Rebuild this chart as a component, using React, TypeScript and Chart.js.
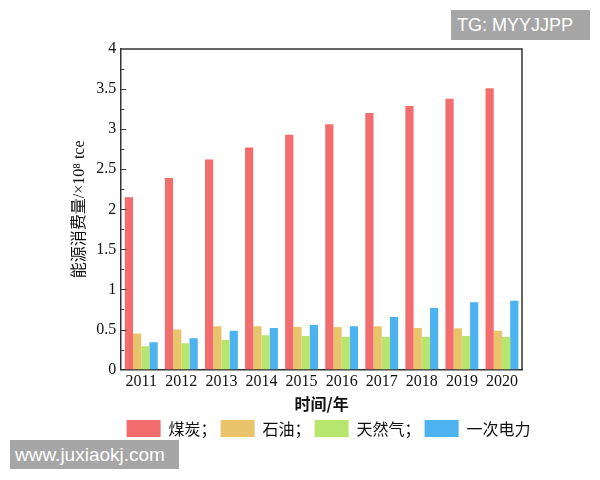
import React, { useEffect, useRef } from "react";
import { Chart, registerables } from "chart.js";

Chart.register(...registerables);

const years = ["2011", "2012", "2013", "2014", "2015", "2016", "2017", "2018", "2019", "2020"];
const coal = [2.15, 2.39, 2.62, 2.77, 2.93, 3.06, 3.2, 3.29, 3.38, 3.51];
const oil = [0.45, 0.5, 0.54, 0.54, 0.53, 0.53, 0.54, 0.52, 0.515, 0.485];
const gas = [0.29, 0.33, 0.37, 0.43, 0.42, 0.41, 0.41, 0.41, 0.42, 0.41];
const power = [0.34, 0.39, 0.485, 0.52, 0.555, 0.54, 0.655, 0.77, 0.84, 0.86];

const seriesNames = ["煤炭；", "石油；", "天然气；", "一次电力"];
const seriesColors = ["#F36C6E", "#EAC46A", "#B7E66E", "#4CB2F0"];

const yTitle = "能源消费量/×10⁸ tce";
const xTitle = "时间/年";

const FONT = "'Liberation Serif', 'Times New Roman', 'Noto Sans CJK SC', serif";
const AXIS_COLOR = "#333333";

const framePlugin = {
  id: "frameAndTicks",
  afterLayout(chart: any) {
    const lg = chart.legend;
    if (lg) {
      const target = (chart.chartArea.left + chart.chartArea.right) / 2 + 7;
      const shift = target - (lg.left + lg.right) / 2;
      lg.left += shift;
      lg.right += shift;
    }
  },
  afterDraw(chart: any) {
    const { ctx, chartArea } = chart;
    const y = chart.scales.y;
    ctx.save();
    ctx.strokeStyle = AXIS_COLOR;
    ctx.lineWidth = 1.5;
    ctx.beginPath();
    ctx.moveTo(chartArea.left, chartArea.top);
    ctx.lineTo(chartArea.right, chartArea.top);
    ctx.lineTo(chartArea.right, chartArea.bottom);
    ctx.stroke();
    ctx.lineWidth = 1;
    for (let i = 1; i < 16; i++) {
      const v = i * 0.25;
      const py = Math.round(y.getPixelForValue(v)) + 0.5;
      const len = i % 2 === 0 ? 5 : 3;
      ctx.beginPath();
      ctx.moveTo(chartArea.left, py);
      ctx.lineTo(chartArea.left + len, py);
      ctx.stroke();
    }
    ctx.restore();
  },
};

export default function App() {
  const ref = useRef<HTMLCanvasElement>(null);

  useEffect(() => {
    if (!ref.current) return;
    const data = [coal, oil, gas, power];
    const chart = new Chart(ref.current, {
      type: "bar",
      data: {
        labels: years,
        datasets: data.map((d, i) => ({
          label: seriesNames[i],
          data: d,
          backgroundColor: seriesColors[i],
          borderWidth: 0,
          categoryPercentage: 0.82,
          barPercentage: 1.0,
        })),
      },
      options: {
        responsive: false,
        animation: false,
        layout: { padding: { left: 64, right: 78, top: 49, bottom: 33 } },
        plugins: {
          tooltip: { enabled: false },
          legend: {
            position: "bottom",
            fullSize: true,
            labels: {
              boxWidth: 34,
              boxHeight: 17,
              padding: 4,
              color: "#111",
              font: { family: "'Noto Sans CJK SC', sans-serif", size: 16 },
            },
          },
        },
        scales: {
          x: {
            offset: true,
            grid: { display: false, drawTicks: false },
            border: { display: true, color: AXIS_COLOR, width: 1.5 },
            ticks: { color: "#111", padding: 3, font: { family: FONT, size: 16 } },
            title: {
              display: true,
              text: xTitle,
              color: "#111",
              padding: { top: 0, bottom: 2 },
              font: { family: "'Noto Sans CJK SC', sans-serif", size: 16, weight: "bold" },
            },
          },
          y: {
            min: 0,
            max: 4,
            grid: { display: false, drawTicks: false },
            border: { display: true, color: AXIS_COLOR, width: 1.5 },
            ticks: {
              stepSize: 0.5,
              color: "#111",
              padding: 5,
              font: { family: FONT, size: 16 },
              callback: (v: any) => String(Number(v)),
            },
            title: {
              display: true,
              text: yTitle,
              color: "#111",
              padding: { top: 6, bottom: 2 },
              font: { family: FONT, size: 16 },
            },
          },
        },
      },
      plugins: [framePlugin],
    });
    return () => chart.destroy();
  }, []);

  return (
    <div style={{ position: "absolute", left: 0, top: 0, width: 600, height: 480, background: "#fff" }}>
      <canvas ref={ref} width={600} height={480} style={{ display: "block" }} />
      <div
        style={{
          position: "absolute",
          left: 451,
          top: 10,
          width: 139,
          height: 30,
          background: "#A6A6A6",
          color: "#fff",
          fontFamily: "'Liberation Sans', Arial, sans-serif",
          fontSize: 18,
          lineHeight: "30px",
          paddingLeft: 6,
          boxSizing: "border-box",
        }}
      >
        TG: MYYJJPP
      </div>
      <div
        style={{
          position: "absolute",
          left: 10,
          top: 440,
          width: 169,
          height: 29,
          background: "#A6A6A6",
          color: "#fff",
          fontFamily: "'Liberation Sans', Arial, sans-serif",
          fontSize: 19,
          lineHeight: "29px",
          paddingLeft: 5,
          boxSizing: "border-box",
        }}
      >
        www.juxiaokj.com
      </div>
    </div>
  );
}
